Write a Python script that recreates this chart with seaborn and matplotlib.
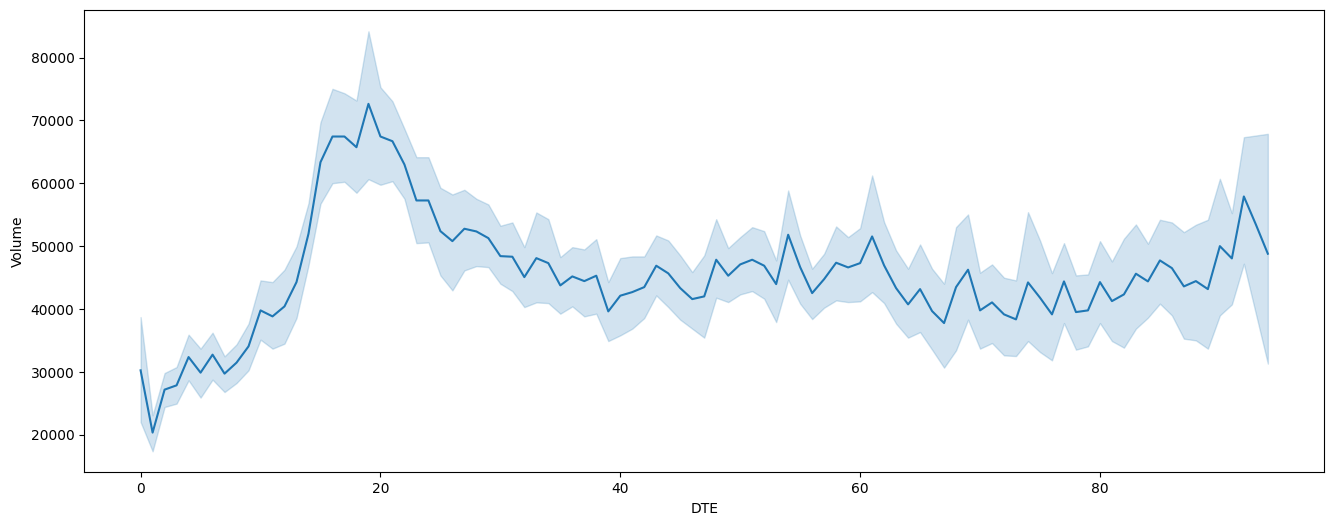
import numpy as np
import pandas as pd
import matplotlib
matplotlib.use("Agg")
import matplotlib.pyplot as plt
import seaborn as sns

dte = list(range(95))

volume_mean = [30278, 20380, 27212, 27895, 32391, 29913, 32772, 29754, 31501, 34091,
               39810, 38857, 40446, 44306, 51994, 63369, 67451, 67451, 65751, 72645,
               67451, 66705, 63003, 57285, 57285, 52408, 50820, 52789, 52360, 51296,
               48436, 48341, 45100, 48118, 47323, 43781, 45211, 44465, 45322, 39651,
               42145, 42717, 43511, 46911, 45700, 43352, 41605, 42034, 47863, 45322,
               47117, 47863, 46911, 43987, 51836, 46688, 42558, 44782, 47387, 46641,
               47323, 51566, 46958, 43352, 40763, 43193, 39699, 37793, 43511, 46276,
               39810, 41081, 39175, 38381, 44258, 41828, 39175, 44417, 39540, 39810,
               44306, 41287, 42352, 45640, 44417, 47753, 46530, 43622, 44465, 43193,
               50025, 48071, 57920, 53472, 48817]

volume_upper = [38746, 23129, 29849, 30802, 35950, 33725, 36267, 32502, 34408, 37697,
                44576, 44306, 46276, 49977, 56855, 69723, 75029, 74330, 73169, 84180,
                75283, 73057, 68675, 64164, 64164, 59302, 58238, 58984, 57555, 56649,
                53266, 53790, 49866, 55378, 54314, 48277, 49866, 49501, 51137, 44306,
                48118, 48388, 48388, 51725, 50931, 48547, 45894, 48547, 54314, 49707,
                51455, 53043, 52408, 47753, 58873, 51725, 46434, 48817, 53154, 51455,
                52884, 61256, 53837, 49342, 46434, 50296, 46434, 44052, 53043, 55060,
                45799, 47117, 45005, 44576, 55425, 50931, 45735, 50502, 45370, 45529,
                50820, 47594, 51201, 53472, 50407, 54218, 53790, 52249, 53424, 54218,
                60732, 55267, 67340, 67610, 67880]

volume_lower = [22065, 17410, 24448, 24988, 28690, 25941, 28800, 26831, 28261, 30278,
                35155, 33725, 34520, 38587, 46958, 56760, 60032, 60256, 58508, 60668,
                59778, 60350, 57555, 50502, 50613, 45370, 42987, 46164, 46847, 46688,
                44052, 42876, 40334, 41081, 40970, 39286, 40446, 38857, 39286, 34933,
                35839, 36903, 38587, 42193, 40334, 38333, 36903, 35473, 41828, 41129,
                42352, 42876, 41669, 37951, 44687, 40874, 38429, 40239, 41399, 41129,
                41240, 42717, 40970, 37697, 35473, 36363, 33567, 30707, 33455, 38333,
                33725, 34615, 32661, 32550, 34933, 33186, 31867, 37793, 33567, 34091,
                37793, 34933, 33884, 36903, 38650, 40874, 39016, 35314, 35044, 33725,
                39016, 40763, 47228, 39286, 31343]

# Long table: three rows per DTE (lower, centre, upper); the median gives the line,
# the min/max interval gives the band.
df = pd.DataFrame({
    "DTE": dte * 3,
    "Volume": volume_lower + volume_mean + volume_upper,
})

fig = plt.figure(figsize=(13.33, 5.25), dpi=100)
ax = fig.add_axes([0.0632, 0.1004, 0.9302, 0.88])

sns.lineplot(data=df, x="DTE", y="Volume", estimator="median",
             errorbar=lambda v: (np.min(v), np.max(v)), ax=ax)

ax.set_xlabel("DTE")
ax.set_ylabel("Volume")

fig.savefig("out.png", dpi=100)
